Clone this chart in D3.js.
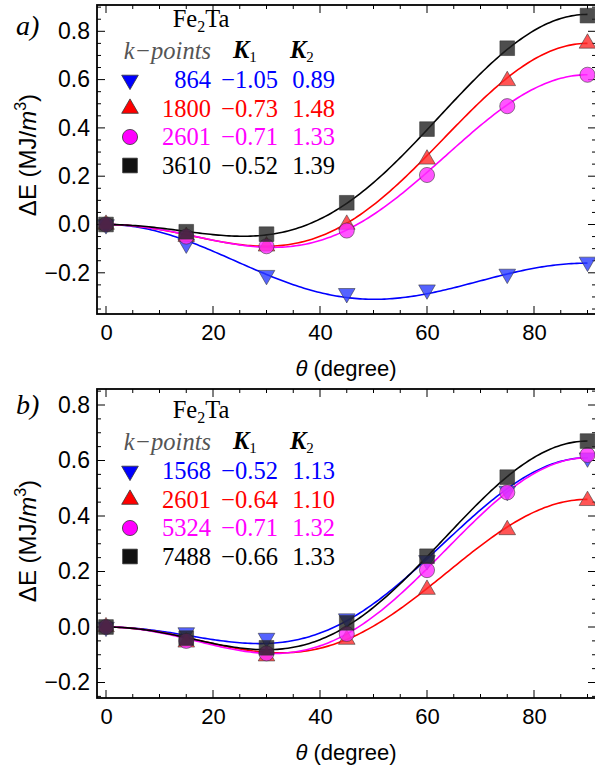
<!DOCTYPE html>
<html>
<head>
<meta charset="utf-8">
<script src="https://cdn.jsdelivr.net/npm/d3@7"></script>
<style>
  body { margin: 0; background: #fff; }
  svg { display: block; }
</style>
</head>
<body>
<svg id="chart" width="595" height="766"></svg>
<script>
// angles (degree)
var angles = [0, 15, 30, 45, 60, 75, 90];

// panel a) k-points, fitted K1 / K2, computed energies
var kpointsA = ["864", "1800", "2601", "3610"];
var k1A = [-1.05, -0.73, -0.71, -0.52];
var k2A = [0.89, 1.48, 1.33, 1.39];
var energyA = [
  [0, -0.08, -0.21, -0.285, -0.27, -0.205, -0.155],
  [0, -0.05, -0.09, 0.0, 0.27, 0.595, 0.75],
  [0, -0.05, -0.09, -0.025, 0.205, 0.49, 0.62],
  [0, -0.03, -0.04, 0.09, 0.395, 0.73, 0.865]
];

// panel b)
var kpointsB = ["1568", "2601", "5324", "7488"];
var k1B = [-0.52, -0.64, -0.71, -0.66];
var k2B = [1.13, 1.10, 1.32, 1.33];
var energyB = [
  [0, -0.02, -0.04, 0.03, 0.24, 0.49, 0.61],
  [0, -0.055, -0.105, -0.045, 0.135, 0.35, 0.455],
  [0, -0.05, -0.095, -0.025, 0.205, 0.485, 0.62],
  [0, -0.04, -0.075, 0.015, 0.255, 0.54, 0.67]
];

var xTicks = [0, 20, 40, 60, 80];
var yTicks = [-0.2, 0.0, 0.2, 0.4, 0.6, 0.8];

var lineColors = ["#0000ff", "#ff0000", "#ff00ff", "#000000"];
var markFill = ["#2a3cff", "#ff2a2a", "#ff2aff", "#222222"];
var textColors = ["#0000ff", "#ff0000", "#ff00ff", "#000000"];
var shapes = ["down", "up", "circle", "square"];

var svg = d3.select("#chart");
var serif = "'Liberation Serif', 'Times New Roman', serif";
var sans = "'Liberation Sans', Arial, sans-serif";

function symbolPath(s) {
  if (s == "down" || s == "up") return d3.symbol().type(d3.symbolTriangle).size(120)();
  if (s == "circle") return d3.symbol().type(d3.symbolCircle).size(180)();
  return d3.symbol().type(d3.symbolSquare).size(215)();
}

function drawPanel(p) {
  var g = svg.append("g");
  var x = d3.scaleLinear().domain([0, 90]).range([106, 587.5]);
  var y = d3.scaleLinear().domain([0, 0.8]).range([p.zero, p.zero - 0.8 * p.unit]);
  var left = 97, right = 596, top = p.top, bottom = p.bottom;
  var yLo = y.invert(bottom), yHi = y.invert(top);

  var clipId = "clip" + p.name;
  svg.append("clipPath").attr("id", clipId)
    .append("rect").attr("x", left).attr("y", top)
    .attr("width", right - left).attr("height", bottom - top);

  // minor ticks
  var xMinor = d3.range(0, 91, 5).filter(function(v) { return v % 20 != 0; });
  var yMinor = d3.range(Math.ceil(yLo / 0.05), Math.floor(yHi / 0.05) + 1)
    .map(function(i) { return i * 0.05; })
    .filter(function(v) { return Math.abs(Math.round(v / 0.2) * 0.2 - v) > 1e-6; });

  var tg = g.append("g").attr("stroke", "#000").attr("stroke-width", 1);
  xMinor.concat(xTicks).forEach(function(v) {
    var len = xTicks.indexOf(v) >= 0 ? 8 : 4;
    tg.append("line").attr("x1", x(v)).attr("x2", x(v)).attr("y1", bottom).attr("y2", bottom - len);
    tg.append("line").attr("x1", x(v)).attr("x2", x(v)).attr("y1", top).attr("y2", top + len);
  });
  yMinor.concat(yTicks).forEach(function(v) {
    var len = yTicks.indexOf(v) >= 0 ? 8 : 4;
    tg.append("line").attr("x1", left).attr("x2", left + len).attr("y1", y(v)).attr("y2", y(v));
    tg.append("line").attr("x1", right).attr("x2", right - len).attr("y1", y(v)).attr("y2", y(v));
  });

  // tick labels via axes (ticks drawn above)
  var xAxis = d3.axisBottom(x).tickValues(xTicks).tickSize(0).tickPadding(10)
    .tickFormat(d3.format("d"));
  var gx = g.append("g").attr("transform", "translate(0," + bottom + ")").call(xAxis);
  gx.select(".domain").remove();
  gx.selectAll("text").attr("font-size", 22).attr("fill", "#000").attr("font-family", sans);

  var yAxis = d3.axisLeft(y).tickValues(yTicks).tickSize(0).tickPadding(7)
    .tickFormat(d3.format(".1f"));
  var gy = g.append("g").attr("transform", "translate(" + left + ",0)").call(yAxis);
  gy.select(".domain").remove();
  gy.selectAll("text").attr("font-size", 23).attr("fill", "#000").attr("font-family", sans)
    .text(function(d) { return d3.format(".1f")(d).replace("-", "\u2212"); });

  // curves E = K1 sin^2 + K2 sin^4
  var plot = g.append("g").attr("clip-path", "url(#" + clipId + ")");
  var theta = d3.range(0, 90.5, 0.5);
  var line = d3.line().x(function(d) { return x(d[0]); }).y(function(d) { return y(d[1]); });
  p.k1.forEach(function(k1, i) {
    var k2 = p.k2[i];
    var pts = theta.map(function(t) {
      var s = Math.sin(t * Math.PI / 180); s = s * s;
      return [t, k1 * s + k2 * s * s];
    });
    plot.append("path").attr("d", line(pts)).attr("fill", "none")
      .attr("stroke", lineColors[i]).attr("stroke-width", 1.6);
  });

  // markers
  var mg = g.append("g");
  p.energy.forEach(function(series, i) {
    mg.selectAll(null).data(series).enter().append("path")
      .attr("d", symbolPath(shapes[i]))
      .attr("transform", function(d, j) {
        return "translate(" + x(angles[j]) + "," + y(d) + ")" + (shapes[i] == "down" ? " rotate(180)" : "");
      })
      .attr("fill", markFill[i]).attr("fill-opacity", 0.8)
      .attr("stroke", "#333").attr("stroke-opacity", 0.7).attr("stroke-width", 0.8);
  });

  // frame
  g.append("rect").attr("x", left).attr("y", top).attr("width", right - left)
    .attr("height", bottom - top).attr("fill", "none").attr("stroke", "#000").attr("stroke-width", 1.8);

  // axis titles
  g.append("text").attr("x", 346).attr("y", bottom + 62).attr("text-anchor", "middle")
    .attr("font-family", sans).attr("font-size", 22)
    .html("<tspan font-style='italic'>\u03b8</tspan> (degree)");
  var yl = g.append("text")
    .attr("transform", "translate(" + 36 + "," + p.ylabel + ") rotate(-90)")
    .attr("text-anchor", "middle").attr("font-family", sans).attr("font-size", 24);
  yl.append("tspan").text("\u0394E (MJ/");
  yl.append("tspan").attr("font-style", "italic").text("m");
  yl.append("tspan").attr("font-size", 16).attr("dy", -10).text("3");
  yl.append("tspan").attr("dy", 10).text(")");

  // panel letter
  g.append("text").attr("x", 16).attr("y", p.letterY).attr("font-family", serif)
    .attr("font-style", "italic").attr("font-size", 28).text(p.name + ")");

  // legend
  var ly = p.legend;
  var fs = 24.5;
  var title = g.append("text").attr("x", 201).attr("y", ly + 27).attr("text-anchor", "middle")
    .attr("font-family", serif).attr("font-size", fs);
  title.append("tspan").text("Fe");
  title.append("tspan").attr("font-size", 16).attr("dy", 5).text("2");
  title.append("tspan").attr("dy", -5).text("Ta");

  g.append("text").attr("x", 211).attr("y", ly + 59).attr("text-anchor", "end")
    .attr("font-family", serif).attr("font-style", "italic").attr("font-size", fs)
    .attr("fill", "#555").text("k\u2212points");
  [["K", "1", 233], ["K", "2", 290]].forEach(function(h) {
    var t = g.append("text").attr("x", h[2]).attr("y", ly + 58).attr("font-family", serif)
      .attr("font-size", fs).attr("font-weight", "bold").attr("font-style", "italic");
    t.append("tspan").text(h[0]);
    t.append("tspan").attr("font-size", 15).attr("font-weight", "normal").attr("font-style", "normal")
      .attr("dy", 4).text(h[1]);
  });

  p.kpoints.forEach(function(kp, i) {
    var by = ly + 88 + i * 28.5;
    g.append("path").attr("d", symbolPath(shapes[i]))
      .attr("transform", "translate(130," + (by - 8) + ")" + (shapes[i] == "down" ? " rotate(180)" : ""))
      .attr("fill", lineColors[i] == "#000000" ? "#111" : lineColors[i])
      .attr("stroke", "#333").attr("stroke-width", 0.8);
    var cols = [[kp, 211], [d3.format(".2f")(p.k1[i]).replace("-", "\u2212"), 278],
                [d3.format(".2f")(p.k2[i]), 335]];
    cols.forEach(function(c) {
      g.append("text").attr("x", c[1]).attr("y", by).attr("text-anchor", "end")
        .attr("font-family", serif).attr("font-size", fs).attr("fill", textColors[i]).text(c[0]);
    });
  });
}

drawPanel({ name: "a", top: 5, bottom: 314, zero: 224.5, unit: 241.5, ylabel: 155,
  letterY: 35, legend: 0, kpoints: kpointsA, k1: k1A, k2: k2A, energy: energyA });
drawPanel({ name: "b", top: 389, bottom: 698, zero: 627, unit: 277.5, ylabel: 541,
  letterY: 414, legend: 391, kpoints: kpointsB, k1: k1B, k2: k2B, energy: energyB });
</script>
</body>
</html>
